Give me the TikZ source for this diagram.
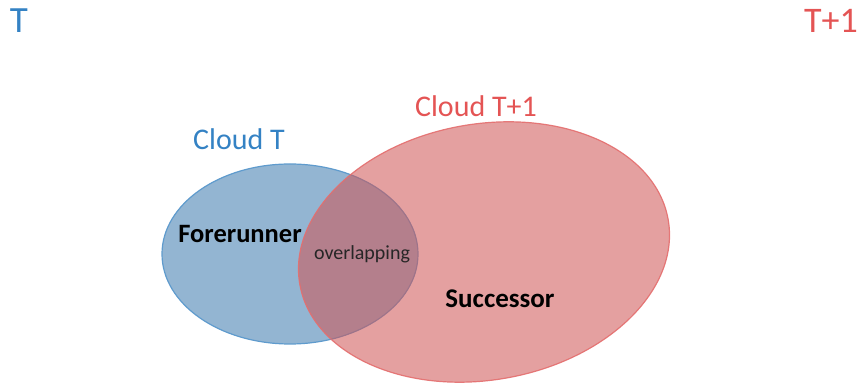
\documentclass[tikz,border=0pt]{standalone}
\usepackage{fontspec}
\setmainfont{Carlito}
\definecolor{tblue}{RGB}{52,130,196}
\definecolor{tred}{RGB}{228,84,84}
\definecolor{bfill}{RGB}{147,181,210}
\definecolor{bline}{RGB}{95,155,205}
\definecolor{rfill}{RGB}{207,86,86}
\definecolor{rline}{RGB}{228,110,110}
\tikzset{
  lbl/.style={inner sep=0pt, anchor=base},
}
\begin{document}
\begin{tikzpicture}[x=1pt,y=1pt]
\useasboundingbox (0,0) rectangle (860,385);
% blue cloud
\path[fill=bfill, draw=bline, line width=1.2pt] (290,131) ellipse [x radius=128, y radius=90];
% red cloud
\path[fill=rfill, fill opacity=0.56, draw=rline, draw opacity=0.9, line width=1.2pt, rotate around={10:(484,133)}] (484,133) ellipse [x radius=187, y radius=128];
\node[lbl, text=tblue, font=\fontsize{37}{40}\selectfont] (tl) at (19,352) {T};
\node[lbl, text=tred, font=\fontsize{36}{40}\selectfont] (tr) at (831,352) {T+1};
\node[lbl, text=tblue, font=\fontsize{30}{34}\selectfont] (ct) at (239,235) {Cloud T};
\node[lbl, text=tred, font=\fontsize{30}{34}\selectfont] (ct1) at (476,268) {Cloud T+1};
\node[lbl, font=\bfseries\fontsize{26.5}{30}\selectfont] (fr) at (240,142) {Forerunner};
\node[lbl, text=black!85, font=\fontsize{20}{24}\selectfont] (ov) at (362,125) {overlapping};
\node[lbl, font=\bfseries\fontsize{27}{30}\selectfont] (su) at (500,77) {Successor};
\end{tikzpicture}
\end{document}
